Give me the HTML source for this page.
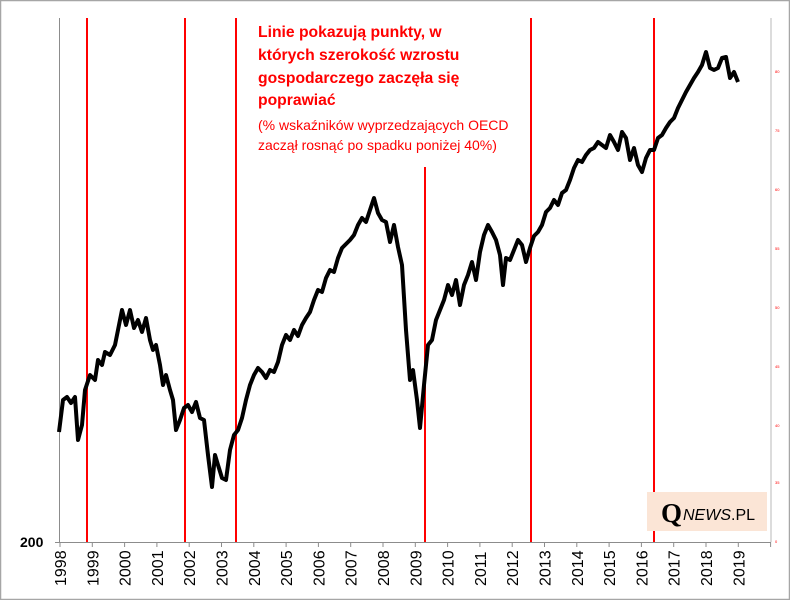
<!DOCTYPE html>
<html><head><meta charset="utf-8"><style>
body{margin:0;background:#fff;}
svg{display:block;}
</style></head><body>
<svg width="790" height="600" xmlns="http://www.w3.org/2000/svg" font-family="Liberation Sans, sans-serif">
<rect x="0.5" y="0.5" width="789" height="599" fill="#fff" stroke="#a6a6a6" stroke-width="1.5"/>
<line x1="59.5" y1="18" x2="59.5" y2="542" stroke="#8c8c8c" stroke-width="1"/>
<line x1="771" y1="18" x2="771" y2="542" stroke="#d0d0d0" stroke-width="1.5"/>
<line x1="55" y1="542.5" x2="771" y2="542.5" stroke="#8c8c8c" stroke-width="1"/>
<g stroke="#8c8c8c" stroke-width="1">
<line x1="60" y1="542" x2="60" y2="547"/><line x1="92.3" y1="542" x2="92.3" y2="547"/><line x1="124.6" y1="542" x2="124.6" y2="547"/><line x1="156.9" y1="542" x2="156.9" y2="547"/><line x1="189.2" y1="542" x2="189.2" y2="547"/><line x1="221.5" y1="542" x2="221.5" y2="547"/><line x1="253.8" y1="542" x2="253.8" y2="547"/><line x1="286.1" y1="542" x2="286.1" y2="547"/><line x1="318.4" y1="542" x2="318.4" y2="547"/><line x1="350.7" y1="542" x2="350.7" y2="547"/><line x1="383" y1="542" x2="383" y2="547"/><line x1="415.3" y1="542" x2="415.3" y2="547"/><line x1="447.6" y1="542" x2="447.6" y2="547"/><line x1="479.9" y1="542" x2="479.9" y2="547"/><line x1="512.2" y1="542" x2="512.2" y2="547"/><line x1="544.5" y1="542" x2="544.5" y2="547"/><line x1="576.8" y1="542" x2="576.8" y2="547"/><line x1="609.1" y1="542" x2="609.1" y2="547"/><line x1="641.4" y1="542" x2="641.4" y2="547"/><line x1="673.7" y1="542" x2="673.7" y2="547"/><line x1="706" y1="542" x2="706" y2="547"/><line x1="738.3" y1="542" x2="738.3" y2="547"/><line x1="770.6" y1="542" x2="770.6" y2="547"/>
</g>
<g font-size="16" fill="#000">
<text transform="translate(66,586) rotate(-90)">1998</text>
<text transform="translate(98.3,586) rotate(-90)">1999</text>
<text transform="translate(130.6,586) rotate(-90)">2000</text>
<text transform="translate(162.9,586) rotate(-90)">2001</text>
<text transform="translate(195.2,586) rotate(-90)">2002</text>
<text transform="translate(227.5,586) rotate(-90)">2003</text>
<text transform="translate(259.8,586) rotate(-90)">2004</text>
<text transform="translate(292.1,586) rotate(-90)">2005</text>
<text transform="translate(324.4,586) rotate(-90)">2006</text>
<text transform="translate(356.7,586) rotate(-90)">2007</text>
<text transform="translate(389,586) rotate(-90)">2008</text>
<text transform="translate(421.3,586) rotate(-90)">2009</text>
<text transform="translate(453.6,586) rotate(-90)">2010</text>
<text transform="translate(485.9,586) rotate(-90)">2011</text>
<text transform="translate(518.2,586) rotate(-90)">2012</text>
<text transform="translate(550.5,586) rotate(-90)">2013</text>
<text transform="translate(582.8,586) rotate(-90)">2014</text>
<text transform="translate(615.1,586) rotate(-90)">2015</text>
<text transform="translate(647.4,586) rotate(-90)">2016</text>
<text transform="translate(679.7,586) rotate(-90)">2017</text>
<text transform="translate(712,586) rotate(-90)">2018</text>
<text transform="translate(744.3,586) rotate(-90)">2019</text>
</g>
<text x="20" y="547" font-size="14" font-weight="bold">200</text>
<g font-size="4" fill="#ff0000">
<text x="775" y="73">80</text><text x="775" y="132">75</text><text x="775" y="191">60</text><text x="775" y="250">55</text><text x="775" y="309">50</text><text x="775" y="368">45</text><text x="775" y="427">40</text><text x="775" y="484">35</text><text x="775" y="543">0</text>
</g>
<g stroke="#ff0000" stroke-width="2">
<line x1="87" y1="18" x2="87" y2="542"/><line x1="185" y1="18" x2="185" y2="542"/><line x1="236" y1="18" x2="236" y2="542"/><line x1="425" y1="167" x2="425" y2="542"/><line x1="531" y1="18" x2="531" y2="542"/><line x1="654" y1="18" x2="654" y2="542"/>
</g>
<polyline fill="none" stroke="#000" stroke-width="4" stroke-linejoin="round" points="59,432 63,400 67,397 71,403 75,397 78,440 82,425 85,390 90,375 95,380 98,360 102,365 105,352 110,355 115,345 118,330 122,310 126,325 130,310 134,328 138,320 142,332 146,318 150,340 153,350 156,345 160,365 163,385 166,375 170,390 173,400 176,430 180,420 184,408 188,405 192,412 196,402 200,418 204,420 208,455 212,487 215,455 218,465 222,478 226,480 230,450 234,435 238,430 242,418 246,400 250,385 254,375 258,368 262,372 266,378 270,370 274,372 278,362 282,345 286,335 290,340 294,330 298,336 302,325 306,318 310,312 314,300 318,290 322,292 326,278 330,270 334,272 338,258 342,248 346,244 350,240 354,235 358,225 362,218 366,222 370,210 374,198 378,213 382,220 386,222 390,242 394,225 398,247 402,265 406,330 410,380 413,370 417,400 420,428 424,385 428,345 432,340 436,320 440,310 444,300 448,285 452,295 456,280 460,305 464,285 468,275 472,262 476,280 480,252 484,235 488,225 492,232 496,240 500,255 503,285 506,258 510,260 514,250 518,240 522,245 526,262 530,248 534,236 538,232 542,225 546,212 550,208 554,200 558,205 562,193 566,190 570,180 574,168 578,160 582,162 586,155 590,150 594,148 598,142 602,145 606,148 610,135 614,142 618,150 622,132 626,138 630,160 634,148 638,165 642,172 646,158 650,150 654,150 658,138 662,135 666,128 670,122 674,118 678,108 682,100 686,92 690,85 694,78 698,72 702,65 706,52 710,68 714,70 718,68 722,58 726,57 730,78 734,72 738,82"/>
<g fill="#ff0000" font-size="15.7" font-weight="bold">
<text x="258" y="37">Linie pokazują punkty, w</text>
<text x="258" y="60">których szerokość wzrostu</text>
<text x="258" y="83">gospodarczego zaczęła się</text>
<text x="258" y="105">poprawiać</text>
</g>
<g fill="#ff0000" font-size="14">
<text x="258" y="130">(% wskaźników wyprzedzających OECD</text>
<text x="258" y="150">zaczął rosnąć po spadku poniżej 40%)</text>
</g>
<rect x="647" y="492" width="120" height="39" fill="#fbe5d6"/>
<text x="661" y="522" font-family="Liberation Serif, serif" font-size="27" font-weight="bold" fill="#000">Q</text>
<text x="683" y="520" font-size="16" font-style="italic" fill="#000">NEWS<tspan font-style="normal">.PL</tspan></text>
</svg>
</body></html>
